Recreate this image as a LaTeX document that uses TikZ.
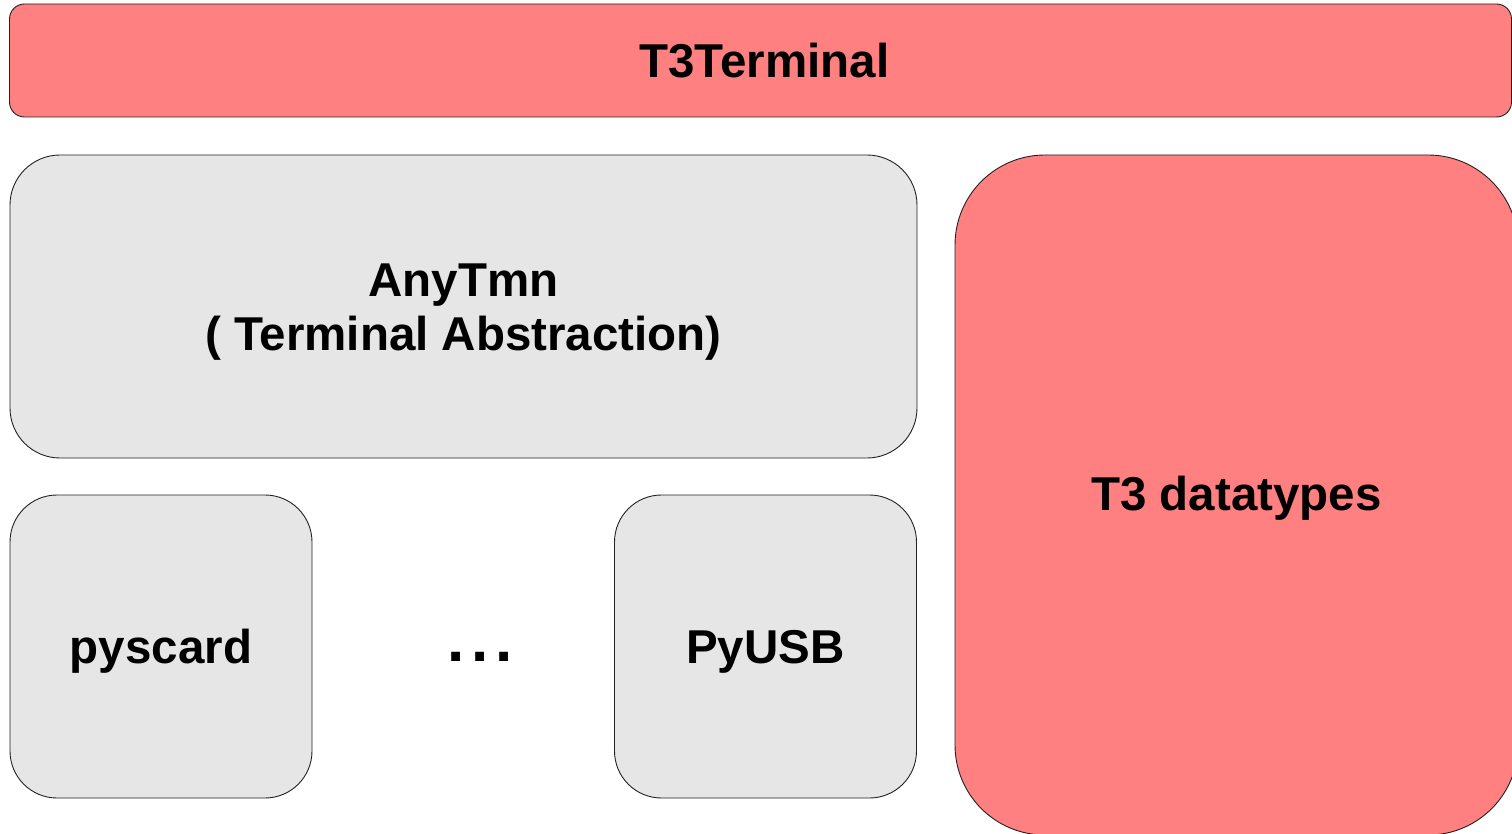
\documentclass[tikz,border=0pt]{standalone}
\usepackage{fontspec}
\setmainfont{Liberation Sans}
\definecolor{layerred}{HTML}{FF8080}
\definecolor{layergray}{HTML}{E6E6E6}
\definecolor{edge}{HTML}{222222}
% box label set a little below the geometric centre: extra room above it
\newcommand{\layertext}[2][12pt]{\raisebox{0pt}[\dimexpr\height+#1\relax][\depth]{\begin{tabular}{@{}c@{}}#2\end{tabular}}}
\begin{document}
\begin{tikzpicture}[x=1pt,y=-1pt,
  layer/.style={draw=edge, line width=0.9pt, inner sep=0pt, outer sep=0pt,
    font=\fontsize{47.5}{54}\selectfont\bfseries},
  redlayer/.style={layer, fill=layerred},
  graylayer/.style={layer, fill=layergray}]
  % canvas
  \path[use as bounding box, clip] (0,0) rectangle (1512,834);

  % top bar
  \node[redlayer, rounded corners=15pt, minimum width=1502pt, minimum height=113pt]
    (term) at (760.5,60.5) {\hspace*{8pt}T3Terminal};

  % terminal abstraction layer
  \node[graylayer, rounded corners=50pt, minimum width=907pt, minimum height=303pt]
    (any) at (463.5,306.5) {\layertext{AnyTmn\\( Terminal Abstraction)}};

  % backends
  \node[graylayer, rounded corners=47pt, minimum width=302pt, minimum height=303pt]
    (pyscard) at (161,646.5) {\layertext{pyscard}};
  \node[graylayer, rounded corners=47pt, minimum width=302pt, minimum height=303pt]
    (pyusb) at (765.5,646.5) {\layertext{PyUSB}};
  \node[font=\fontsize{62}{62}\selectfont\bfseries, inner sep=0pt, anchor=base]
    (more) at (480,661) {.\hspace{6.5pt}.\hspace{6.5pt}.};

  % data types column
  \node[redlayer, rounded corners=90pt, minimum width=563pt, minimum height=680pt]
    (types) at (1236.5,495) {\layertext[10pt]{T3 datatypes}};
\end{tikzpicture}
\end{document}
